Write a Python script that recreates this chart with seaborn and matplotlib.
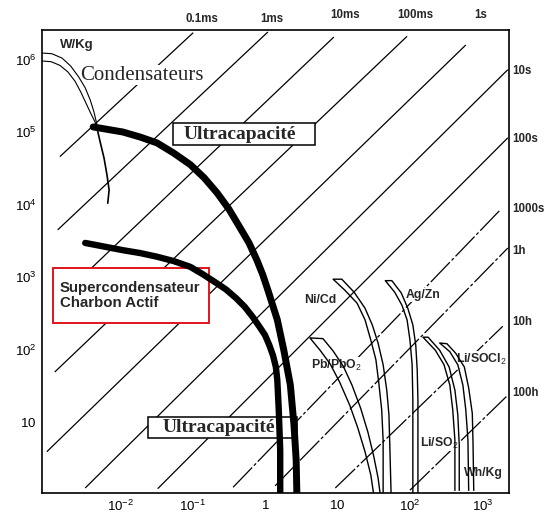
#diagramme de Ragone (puissance massique / énergie massique)
import numpy as np
import matplotlib
matplotlib.use("Agg")
import matplotlib.pyplot as plt
from matplotlib.patches import Rectangle
import seaborn as sns

#valeurs, en log10 (Wh/kg en x, W/kg en y)

#droites de constante de temps : extrémités
temps_noms = ['0.1ms', '1ms', '10ms', '100ms', '1s', '10s', '100s', '1000s', '1h', '10h', '100h']
lignes_logE_debut = [-2.83, -2.86, -2.88, -2.90, -3.01, -2.48, -1.48, -0.44, 0.14, 0.97, 2.00]
lignes_logP_debut = [4.66, 3.65, 2.66, 1.69, 0.59, 0.09, 0.08, 0.10, 0.12, 0.09, 0.06]
lignes_logE_fin = [-0.99, 0.04, 0.95, 1.96, 2.77, 3.35, 3.35, 3.24, 3.35, 3.28, 3.35]
lignes_logP_fin = [6.37, 6.38, 6.31, 6.32, 6.20, 5.86, 4.92, 3.92, 3.40, 2.32, 1.37]

#condensateurs
cond_ext_logE = [-3.08, -2.94, -2.80, -2.68, -2.57, -2.48, -2.41, -2.36, -2.32]
cond_ext_logP = [6.09, 6.08, 6.02, 5.91, 5.76, 5.61, 5.44, 5.28, 5.11]
cond_int_logE = [-3.08, -2.95, -2.83, -2.72, -2.62, -2.54, -2.47, -2.40, -2.33]
cond_int_logP = [5.98, 5.97, 5.92, 5.83, 5.70, 5.55, 5.40, 5.25, 5.11]
cond_queue_logE = [-2.33, -2.28, -2.22, -2.18, -2.15, -2.17]
cond_queue_logP = [5.11, 4.89, 4.64, 4.41, 4.20, 4.01]

#ultracapacité et supercondensateur charbon actif
ultra_logE = [-2.37, -1.96, -1.72, -1.49, -1.26, -1.03, -0.84, -0.66, -0.50, -0.35, -0.22, -0.11,
              -0.03, 0.04, 0.17, 0.26, 0.35, 0.40, 0.43, 0.44]
ultra_logP = [5.07, 5.00, 4.93, 4.85, 4.71, 4.55, 4.37, 4.16, 3.94, 3.69, 3.47, 3.23,
              3.03, 2.82, 2.41, 1.99, 1.51, 0.96, 0.48, 0.0]
super_logE = [-2.48, -1.96, -1.72, -1.49, -1.26, -1.03, -0.86, -0.69, -0.54, -0.40, -0.28, -0.17,
              -0.08, 0.0, 0.06, 0.11, 0.15, 0.17, 0.19, 0.21, 0.21]
super_logP = [3.47, 3.37, 3.33, 3.28, 3.22, 3.14, 3.04, 2.93, 2.83, 2.71, 2.59, 2.45,
              2.32, 2.20, 2.06, 1.92, 1.76, 1.58, 1.17, 0.61, 0.0]

#batteries (bord gauche et bord droit de chaque bande)
nicd_g_logE = [0.94, 1.10, 1.27, 1.38, 1.46, 1.53, 1.57, 1.61, 1.63, 1.63]
nicd_g_logP = [2.97, 2.82, 2.64, 2.41, 2.13, 1.86, 1.54, 1.17, 0.75, 0.0]
nicd_d_logE = [1.06, 1.23, 1.38, 1.48, 1.56, 1.63, 1.68, 1.71, 1.72, 1.74]
nicd_d_logP = [2.97, 2.79, 2.57, 2.34, 2.09, 1.79, 1.44, 1.10, 0.75, 0.0]

agzn_g_logE = [1.66, 1.79, 1.89, 1.96, 2.00, 2.03, 2.04, 2.04, 2.04]
agzn_g_logP = [2.95, 2.79, 2.61, 2.41, 2.13, 1.79, 1.30, 0.75, 0.0]
agzn_d_logE = [1.75, 1.88, 1.97, 2.04, 2.08, 2.10, 2.11, 2.11, 2.11]
agzn_d_logP = [2.95, 2.78, 2.57, 2.34, 2.06, 1.72, 1.30, 0.75, 0.0]

pb_g_logE = [0.62, 0.76, 0.90, 1.03, 1.17, 1.28, 1.38, 1.46, 1.50]
pb_g_logP = [2.16, 1.99, 1.80, 1.55, 1.23, 0.92, 0.59, 0.27, 0.0]
pb_d_logE = [0.80, 0.94, 1.08, 1.20, 1.32, 1.42, 1.50, 1.56, 1.59]
pb_d_logP = [2.15, 1.98, 1.77, 1.51, 1.19, 0.86, 0.53, 0.23, 0.0]

liso2_g_logE = [2.18, 2.35, 2.47, 2.55, 2.59, 2.62, 2.62]
liso2_g_logP = [2.17, 1.99, 1.79, 1.51, 1.17, 0.75, 0.05]
liso2_d_logE = [2.25, 2.41, 2.54, 2.62, 2.66, 2.68, 2.68]
liso2_d_logP = [2.17, 1.99, 1.76, 1.44, 1.10, 0.68, 0.05]

lisocl2_g_logE = [2.41, 2.55, 2.66, 2.73, 2.77, 2.80, 2.81]
lisocl2_g_logP = [2.09, 1.97, 1.79, 1.51, 1.17, 0.75, 0.05]
lisocl2_d_logE = [2.51, 2.63, 2.75, 2.81, 2.86, 2.87, 2.88]
lisocl2_d_logP = [2.08, 1.95, 1.76, 1.47, 1.12, 0.71, 0.05]

#graduations
xticks_val = [1e-2, 1e-1, 1, 10, 1e2, 1e3]
xticks_txt = ['$10^{-2}$', '$10^{-1}$', '$1$', '$10$', '$10^{2}$', '$10^{3}$']
yticks_val = [10, 1e2, 1e3, 1e4, 1e5, 1e6]
yticks_txt = ['$10$', '$10^{2}$', '$10^{3}$', '$10^{4}$', '$10^{5}$', '$10^{6}$']


sns.set_theme(style="white")
plt.rcParams['font.family'] = ['Liberation Sans', 'DejaVu Sans']
plt.rcParams['mathtext.fontset'] = 'custom'
plt.rcParams['mathtext.rm'] = 'Liberation Sans'
plt.rcParams['mathtext.it'] = 'Liberation Sans:italic'
plt.rcParams['mathtext.bf'] = 'Liberation Sans:bold'

fig, ax = plt.subplots(figsize=(5.49, 5.13), dpi=100)
fig.subplots_adjust(left=0.0765, right=0.9271, bottom=0.039, top=0.9415)
ax.set_xscale('log')
ax.set_yscale('log')
ax.set_xlim(10**-3.076, 10**3.366)
ax.set_ylim(10**0.021, 10**6.407)


def trace(logE, logP, lw=1.0, z=2, dashes=None, cap='butt'):
    sns.lineplot(x=10**np.array(logE), y=10**np.array(logP), ax=ax, color='black',
                 linewidth=lw, sort=False, estimator=None, zorder=z)
    ligne = ax.lines[-1]
    ligne.set_solid_capstyle(cap)
    ligne.set_solid_joinstyle('round')
    if dashes:
        ligne.set_dashes(dashes)


#droites de temps
for i in range(len(temps_noms)):
    style = (22, 2, 2.5, 2) if i >= 7 else None
    trace([lignes_logE_debut[i], lignes_logE_fin[i]], [lignes_logP_debut[i], lignes_logP_fin[i]],
          lw=0.9, z=1, dashes=style)

#condensateurs
trace(cond_ext_logE, cond_ext_logP, lw=0.8, z=4)
trace(cond_int_logE, cond_int_logP, lw=0.8, z=4)
trace(cond_queue_logE, cond_queue_logP, lw=1.2, z=4)

#courbes épaisses
trace(ultra_logE, ultra_logP, lw=5, z=5, cap='round')
trace(super_logE, super_logP, lw=4.6, z=5, cap='round')

#bandes des batteries
for g_E, g_P, d_E, d_P in [(nicd_g_logE, nicd_g_logP, nicd_d_logE, nicd_d_logP),
                           (agzn_g_logE, agzn_g_logP, agzn_d_logE, agzn_d_logP),
                           (pb_g_logE, pb_g_logP, pb_d_logE, pb_d_logP),
                           (liso2_g_logE, liso2_g_logP, liso2_d_logE, liso2_d_logP),
                           (lisocl2_g_logE, lisocl2_g_logP, lisocl2_d_logE, lisocl2_d_logP)]:
    trace(g_E[::-1] + d_E, g_P[::-1] + d_P, lw=1.0, z=3)


#cadres
def cadre(e0, e1, p0, p1, couleur, lw):
    ax.add_patch(Rectangle((10**e0, 10**p0), 10**e1 - 10**e0, 10**p1 - 10**p0,
                           facecolor='white', edgecolor=couleur, linewidth=lw, zorder=2))


cadre(-1.27, 0.69, 4.82, 5.12, 'black', 1.1)
cadre(-1.61, 0.44, 0.78, 1.07, 'black', 1.1)
cadre(-2.92, -0.77, 2.37, 3.12, '#e0161c', 1.4)

serif = ['Liberation Serif', 'DejaVu Serif']
ax.text(10**-0.345, 10**4.97, 'Ultracapacité', family=serif, weight='bold', fontsize=14,
        ha='center', va='center', zorder=2.5)
ax.text(10**-0.634, 10**0.924, 'Ultracapacité', family=serif, weight='bold', fontsize=14,
        ha='center', va='center', zorder=2.5)
ax.text(10**-2.55, 10**5.72, 'Condensateurs', family=serif, fontsize=15, ha='left', va='baseline',
        zorder=2.5, bbox=dict(facecolor='white', edgecolor='none', pad=0.5))
ax.text(10**-2.83, 10**2.75, 'Supercondensateur\nCharbon Actif', weight='bold', fontsize=10.8,
        ha='left', va='center', linespacing=1.1, zorder=2.5)
ax.text(10**-2.60, 10**6.20, 'W/Kg', weight='bold', fontsize=9.5, ha='center', va='center')

#étiquettes des batteries
etiquettes = [('Ni/Cd', 0.76, 2.68), ('Ag/Zn', 2.18, 2.75), ('Pb/PbO$_2$', 0.99, 1.78),
              ('Li/SOCl$_2$', 2.99, 1.86), ('Li/SO$_2$', 2.40, 0.71), ('Wh/Kg', 3.01, 0.30)]
for nom, le, lp in etiquettes:
    ax.text(10**le, 10**lp, nom, weight='bold', fontsize=8.8, ha='center', va='center', zorder=2.6,
            bbox=dict(facecolor='white', edgecolor='none', pad=0.6))

#constantes de temps en haut et à droite
haut_logE = [-0.87, 0.10, 1.10, 2.07, 2.97]
haut_logP = [6.56, 6.56, 6.61, 6.61, 6.61]
for nom, le, lp in zip(temps_noms[:5], haut_logE, haut_logP):
    ax.text(10**le, 10**lp, nom, weight='bold', fontsize=8.3, ha='center', va='center', clip_on=False)
droite_logP = [5.84, 4.90, 3.94, 3.36, 2.38, 1.40]
for nom, lp in zip(temps_noms[5:], droite_logP):
    ax.text(10**3.407, 10**lp, nom, weight='bold', fontsize=8.3, ha='left', va='center', clip_on=False)

#axes
ax.set_xticks(xticks_val)
ax.set_xticklabels(xticks_txt)
ax.set_yticks(yticks_val)
ax.set_yticklabels(yticks_txt)
ax.minorticks_off()
ax.tick_params(direction='in', length=5, width=1.1, pad=4, labelsize=9.5, colors='black')
ax.set_xlabel('')
ax.set_ylabel('')
for s in ax.spines.values():
    s.set_color('black')
    s.set_linewidth(1.2)
ax.grid(False)

fig.savefig('out.png', dpi=100)
